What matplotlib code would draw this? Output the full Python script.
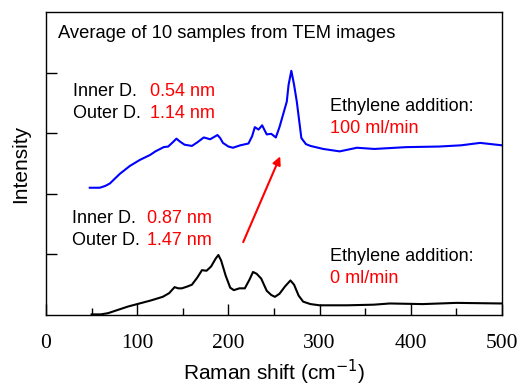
import matplotlib.pyplot as plt

# spectra (Raman shift in cm-1, intensity in arb. units)
shift_0 = [50, 60, 68, 80, 90, 100, 115, 128, 135, 141, 145, 149, 155, 160, 166, 171,
           176, 181, 186, 189, 192, 197, 202, 206, 212, 218, 223, 227, 231, 236, 242,
           247, 251, 256, 262, 268, 272, 277, 282, 290, 300, 330, 359, 377, 413, 450, 500]
int_0 = [0.01, 0.01, 0.03, 0.09, 0.14, 0.18, 0.24, 0.30, 0.36, 0.46, 0.44, 0.44, 0.47,
         0.50, 0.62, 0.74, 0.73, 0.80, 0.93, 0.99, 0.90, 0.65, 0.45, 0.41, 0.44, 0.44,
         0.58, 0.71, 0.68, 0.60, 0.40, 0.33, 0.30, 0.35, 0.47, 0.57, 0.50, 0.32, 0.22,
         0.18, 0.16, 0.16, 0.17, 0.19, 0.18, 0.20, 0.19]

shift_100 = [48, 59, 65, 70, 81, 92, 103, 114, 120, 129, 134, 139, 143, 147, 152, 160,
             166, 173, 180, 188, 191, 194, 200, 205, 213, 222, 226, 229, 233, 237, 242,
             247, 252, 256, 260, 264, 266, 269, 272, 275, 280, 285, 290, 304, 322, 341,
             360, 395, 431, 455, 476, 500]
int_100 = [2.10, 2.10, 2.13, 2.17, 2.33, 2.46, 2.56, 2.64, 2.70, 2.77, 2.78, 2.85, 2.91,
           2.86, 2.81, 2.79, 2.85, 2.93, 2.90, 2.97, 2.92, 2.84, 2.78, 2.76, 2.80, 2.83,
           2.95, 3.10, 3.06, 3.13, 2.98, 2.99, 2.93, 3.10, 3.31, 3.52, 3.80, 4.03, 3.80,
           3.52, 2.92, 2.82, 2.79, 2.74, 2.70, 2.76, 2.74, 2.77, 2.78, 2.80, 2.84, 2.80]

x_ticks = [0, 100, 200, 300, 400, 500]

plt.rcParams['font.family'] = ['Liberation Sans', 'DejaVu Sans']

fig = plt.figure(figsize=(5.23, 3.86), dpi=100)
ax = fig.add_axes([46 / 523, 71 / 386, 456 / 523, 303 / 386])

ax.plot(shift_0, int_0, color='black', lw=1.5)
ax.plot(shift_100, int_100, color='blue', lw=1.5)

ax.set_xlim(0, 500)
ax.set_ylim(0, 5)
ax.set_xticks(x_ticks)
ax.set_xticks(range(50, 500, 100), minor=True)
ax.set_yticks([1, 2, 3, 4])
ax.set_yticklabels([])
ax.tick_params(axis='x', which='major', direction='in', length=8, width=1, top=False,
               labelsize=15.5, pad=14)
ax.tick_params(axis='x', which='minor', direction='in', length=5, width=1, top=False)
ax.tick_params(axis='y', direction='in', length=8, width=1, right=False)
for lab in ax.get_xticklabels():
    lab.set_family('Liberation Serif')
for sp in ax.spines.values():
    sp.set_linewidth(1)

ax.set_xlabel('Raman shift (cm$^{-1}$)', fontsize=15, labelpad=3)
ax.set_ylabel('Intensity', fontsize=15, labelpad=8)

fs = 13
ax.text(13, 4.64, 'Average of 10 samples from TEM images', fontsize=13.2, va='center')

ax.text(30, 3.69, 'Inner D.', fontsize=fs, va='center')
ax.text(114, 3.69, '0.54 nm', fontsize=fs, va='center', color='red')
ax.text(30, 3.33, 'Outer D.', fontsize=fs, va='center')
ax.text(114, 3.33, '1.14 nm', fontsize=fs, va='center', color='red')
ax.text(311, 3.44, 'Ethylene addition:', fontsize=fs, va='center')
ax.text(311, 3.08, '100 ml/min', fontsize=fs, va='center', color='red')

ax.text(28, 1.59, 'Inner D.', fontsize=fs, va='center')
ax.text(111, 1.59, '0.87 nm', fontsize=fs, va='center', color='red')
ax.text(28, 1.23, 'Outer D.', fontsize=fs, va='center')
ax.text(111, 1.23, '1.47 nm', fontsize=fs, va='center', color='red')
ax.text(311, 0.97, 'Ethylene addition:', fontsize=fs, va='center')
ax.text(311, 0.61, '0 ml/min', fontsize=fs, va='center', color='red')

ax.annotate('', xy=(258, 2.66), xytext=(215, 1.16),
            arrowprops=dict(arrowstyle='-|>', color='red', lw=1.5, mutation_scale=12))

fig.savefig('out.png', dpi=100, facecolor='white')
